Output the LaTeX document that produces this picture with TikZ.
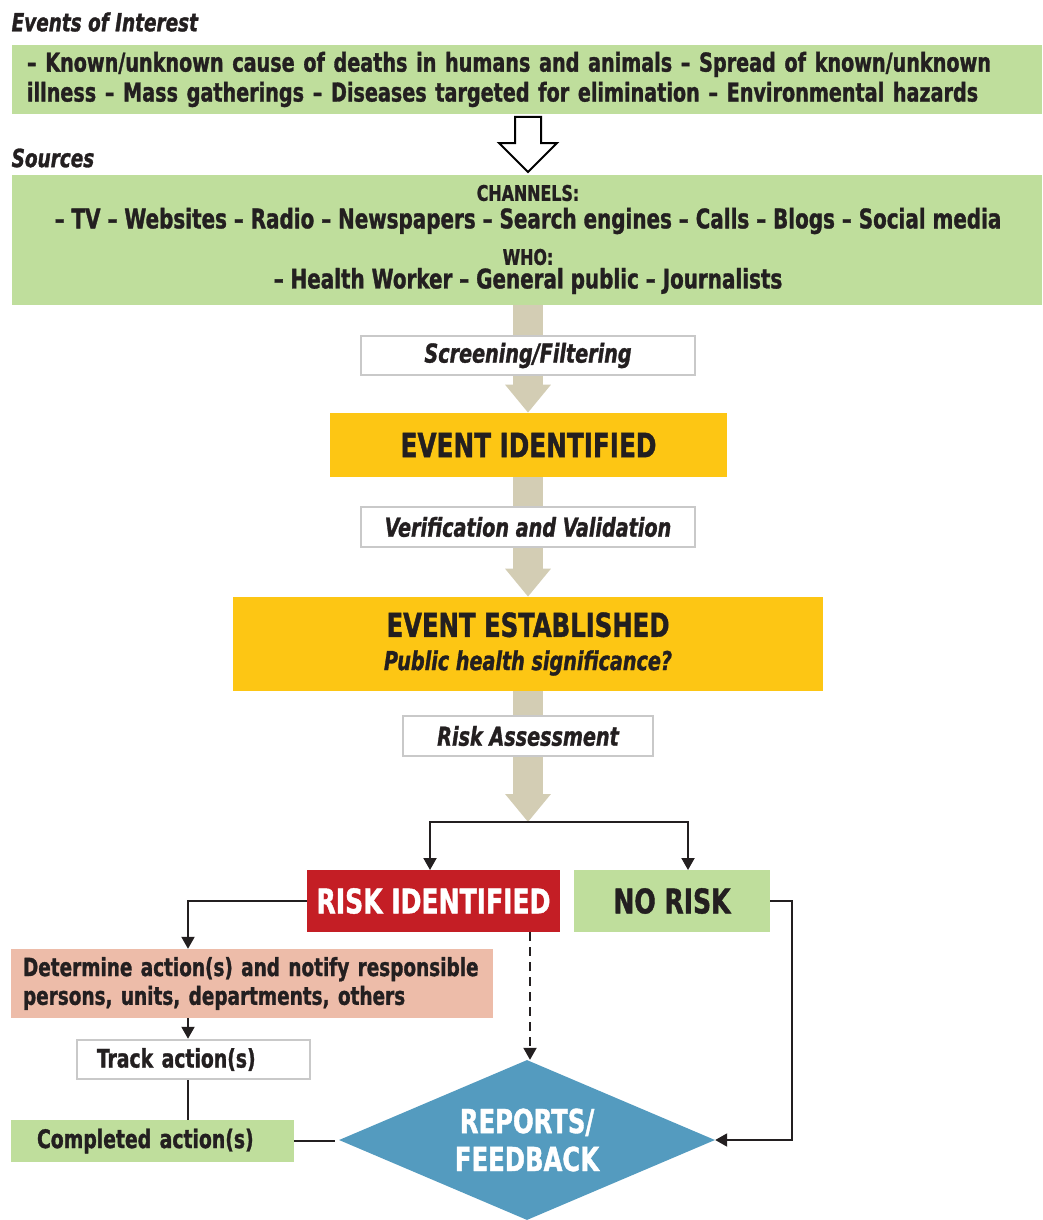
\documentclass[tikz,border=0pt]{standalone}
\usepackage{fontspec}
\usetikzlibrary{arrows.meta,shapes.geometric,backgrounds,positioning}

\setmainfont{DejaVuSansCondensed}[Extension=.ttf, UprightFont=*-Bold, ItalicFont=*-BoldOblique, BoldFont=*-Bold, BoldItalicFont=*-BoldOblique, FakeStretch=0.82, FakeBold=1.2]

\definecolor{leaf}{HTML}{BFDE9C}
\definecolor{amber}{HTML}{FDC614}
\definecolor{sand}{HTML}{D3CDB4}
\definecolor{alert}{HTML}{C41E25}
\definecolor{salmon}{HTML}{EDBCA9}
\definecolor{steel}{HTML}{549BBF}
\definecolor{frame}{HTML}{C9C9C9}
\definecolor{ink}{HTML}{231F20}

\newcommand{\fs}[1]{\fontsize{#1}{1.15\dimexpr#1pt\relax}\selectfont}

\begin{document}
\begin{tikzpicture}[x=1pt,y=-1pt,>={Triangle[width=13pt,length=12pt]},semithick,text=ink]
        \tikzstyle{heading}=[anchor=west, font=\fs{25}\itshape]
        \tikzstyle{band}=[fill=leaf, inner sep=0pt, minimum width=1030pt]
        \tikzstyle{stage}=[fill=white, draw=frame, line width=2.5pt, inner sep=0pt, font=\fs{26}\itshape]
        \tikzstyle{event}=[fill=amber, inner sep=0pt]
        \tikzstyle{trunk}=[draw=sand, line width=30pt, -{Triangle[width=44pt,length=28pt]}]
        \tikzstyle{flow}=[draw=ink, line width=2pt, ->]
        \tikzstyle{link}=[draw=ink, line width=2pt]

        \useasboundingbox (0,0) rectangle (1042,1220);

        % events of interest
        \node[heading] (lblinterest) at (8,22) {Events of Interest};
        \node[band, minimum height=69pt, text width=1000pt, align=left, font=\fs{26}] (interest) at (527,79.5)
            {– Known/unknown cause of deaths in humans and animals – Spread of known/unknown\\
             illness – Mass gatherings – Diseases targeted for elimination – Environmental hazards};

        \draw[line width=2pt, fill=white] (515,117) -- (541,117) -- (541,143) -- (557,143)
            -- (528,172) -- (499,143) -- (515,143) -- cycle;

        % sources
        \node[heading] (lblsources) at (8,158) {Sources};
        \node[band, minimum height=130pt] (sources) at (527,240) {};
        \node[font=\fs{21.5}] (channels) at (528,193) {CHANNELS:};
        \node[font=\fs{27}] (chlist) at (528,221) {– TV – Websites – Radio – Newspapers – Search engines – Calls – Blogs – Social media};
        \node[font=\fs{21.5}] (who) at (528,257) {WHO:};
        \node[font=\fs{27}] (wholist) at (528,281) {– Health Worker – General public – Journalists};

        % main line
        \coordinate (split) at (528,822);
        \node[stage, minimum width=334pt, minimum height=39pt] (screening) at (528,355.5) {Screening/Filtering};
        \node[event, minimum width=397pt, minimum height=64pt, font=\fs{33.5}] (identified) at (528.5,445) {EVENT IDENTIFIED};
        \node[stage, minimum width=334pt, minimum height=40pt] (verification) at (528,527) {Verification and Validation};
        \node[event, minimum width=590pt, minimum height=94pt, align=center] (established) at (528,644)
            {\fs{33}EVENT ESTABLISHED\\[12pt]\fs{26}\itshape Public health significance?};
        \node[stage, minimum width=250pt, minimum height=40pt] (assessment) at (528,736) {Risk Assessment};

        \begin{pgfonlayer}{background}
            \draw[trunk] (sources.south -| split) -- (identified.north -| split);
            \draw[trunk] (identified.south -| split) -- (established.north -| split);
            \draw[trunk] (established.south -| split) -- (split);
        \end{pgfonlayer}

        % outcome
        \node[fill=alert, text=white, inner sep=0pt, minimum width=253pt, minimum height=62pt, font=\fs{34}] (risk) at (433.5,901) {RISK IDENTIFIED};
        \node[fill=leaf, inner sep=0pt, minimum width=196pt, minimum height=62pt, font=\fs{34}] (norisk) at (672,901) {NO RISK};
        \coordinate (riskin) at (430,870);
        \coordinate (norisk in) at (688,870);
        \draw[flow] (split) -| (riskin);
        \draw[flow] (split) -| (norisk in);

        % actions
        \coordinate (spine) at (188,0);
        \node[fill=salmon, inner xsep=12pt, inner ysep=0pt, text width=458pt, minimum height=69pt, align=left, font=\fs{25}] (determine) at (252,983.5)
            {Determine action(s) and notify responsible\\persons, units, departments, others};
        \node[fill=white, draw=frame, line width=2.5pt, inner xsep=20pt, inner ysep=0pt, text width=193pt, minimum height=39pt, align=left, font=\fs{25.5}] (track) at (193.5,1059.5) {Track action(s)};
        \node[fill=leaf, inner xsep=26pt, inner ysep=0pt, text width=231pt, minimum height=42pt, align=left, font=\fs{25.5}] (completed) at (152.5,1141) {Completed action(s)};
        \node[diamond, fill=steel, inner sep=0pt, minimum width=376pt, minimum height=160pt] (reports) at (527,1140) {};
        \node[text=white, align=center, font=\fs{33}] (reportstext) at (527,1140) {REPORTS/\\FEEDBACK};

        \draw[flow] (risk.west) -| (determine.north -| spine);
        \draw[flow] (determine.south -| spine) -- (track.north -| spine);
        \draw[link] (track.south -| spine) -- (completed.north -| spine);
        \draw[link] (completed.east) -- ([xshift=-4pt]completed.east -| reports.west);
        \coordinate (dash) at (530,0);
        \draw[flow, dashed, dash pattern=on 9pt off 6pt] (risk.south -| dash) -- (reports.north -| dash);
        \draw[flow] (norisk.east) -- ++(22,0) |- (reports.east);
\end{tikzpicture}
\end{document}
